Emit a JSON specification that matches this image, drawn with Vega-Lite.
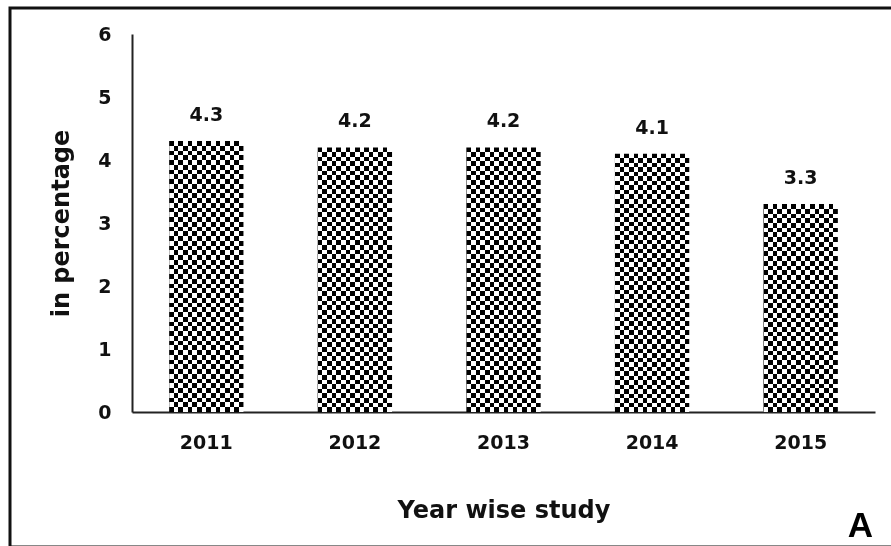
{
"$schema": "https://vega.github.io/schema/vega-lite/v6.json",
"width": 884, "height": 539,
"autosize": {"type": "none"},
"padding": {"left": 10, "top": 8, "right": 0, "bottom": 0},
"background": "white",
"config": {"view": {"stroke": "#111", "strokeWidth": 3}, "font": "DejaVu Sans"},
"title": {"text": "A", "orient": "bottom", "anchor": "end", "frame": "group", "font": "Liberation Sans", "fontSize": 35, "fontWeight": "bold", "color": "#000", "baseline": "alphabetic", "offset": -10, "dx": -21},
"data": {"values": [
{"year": "2011", "v": 4.3},
{"year": "2012", "v": 4.2},
{"year": "2013", "v": 4.2},
{"year": "2014", "v": 4.1},
{"year": "2015", "v": 3.3}
]},
"encoding": {
"x": {"field": "year", "type": "nominal", "scale": {"range": [122, 865], "paddingInner": 0.5, "paddingOuter": 0.25},
 "axis": {"title": "Year wise study", "orient": "bottom", "offset": -135, "labelAngle": 0, "ticks": false, "labelPadding": 21, "labelFont": "DejaVu Sans", "labelFontSize": 19, "labelFontWeight": "bold", "labelColor": "#111", "domainColor": "#222", "domainWidth": 2, "titleFont": "DejaVu Sans", "titleFontSize": 24, "titleFontWeight": "bold", "titleColor": "#111", "titlePadding": 46, "grid": false}},
"y": {"field": "v", "type": "quantitative", "scale": {"domain": [0, 6], "range": [404, 26], "nice": false, "zero": true},
 "axis": {"title": "in percentage", "orient": "left", "offset": -122, "values": [0, 1, 2, 3, 4, 5, 6], "ticks": false, "labelPadding": 21, "labelFont": "DejaVu Sans", "labelFontSize": 19, "labelFontWeight": "bold", "labelColor": "#111", "domainColor": "#222", "domainWidth": 2, "titleFont": "DejaVu Sans", "titleFontSize": 24, "titleFontWeight": "bold", "titleColor": "#111", "titlePadding": 24, "grid": false}}
},
"layer": [
{"mark": {"type": "bar", "stroke": null, "fill": {"gradient": "linear", "x1": 0, "y1": 0, "x2": 1, "y2": 0, "stops": [
{"offset": 0, "color": "#000"}, {"offset": 0.0625, "color": "#000"}, {"offset": 0.0625, "color": "#fff"}, {"offset": 0.125, "color": "#fff"},
{"offset": 0.125, "color": "#000"}, {"offset": 0.1875, "color": "#000"}, {"offset": 0.1875, "color": "#fff"}, {"offset": 0.25, "color": "#fff"},
{"offset": 0.25, "color": "#000"}, {"offset": 0.3125, "color": "#000"}, {"offset": 0.3125, "color": "#fff"}, {"offset": 0.375, "color": "#fff"},
{"offset": 0.375, "color": "#000"}, {"offset": 0.4375, "color": "#000"}, {"offset": 0.4375, "color": "#fff"}, {"offset": 0.5, "color": "#fff"},
{"offset": 0.5, "color": "#000"}, {"offset": 0.5625, "color": "#000"}, {"offset": 0.5625, "color": "#fff"}, {"offset": 0.625, "color": "#fff"},
{"offset": 0.625, "color": "#000"}, {"offset": 0.6875, "color": "#000"}, {"offset": 0.6875, "color": "#fff"}, {"offset": 0.75, "color": "#fff"},
{"offset": 0.75, "color": "#000"}, {"offset": 0.8125, "color": "#000"}, {"offset": 0.8125, "color": "#fff"}, {"offset": 0.875, "color": "#fff"},
{"offset": 0.875, "color": "#000"}, {"offset": 0.9375, "color": "#000"}, {"offset": 0.9375, "color": "#fff"}, {"offset": 1, "color": "#fff"}
]}}},
{"transform": [{"filter": "datum.v > 4"}],
 "mark": {"type": "bar", "stroke": null, "blend": "difference", "fill": {"gradient": "linear", "x1": 0, "y1": 0, "x2": 0, "y2": 1, "stops": [
{"offset":0,"color":"#000"},{"offset":0.017544,"color":"#000"},{"offset":0.017544,"color":"#fff"},{"offset":0.035088,"color":"#fff"},{"offset":0.035088,"color":"#000"},{"offset":0.052632,"color":"#000"},{"offset":0.052632,"color":"#fff"},{"offset":0.070175,"color":"#fff"},{"offset":0.070175,"color":"#000"},{"offset":0.087719,"color":"#000"},{"offset":0.087719,"color":"#fff"},{"offset":0.105263,"color":"#fff"},{"offset":0.105263,"color":"#000"},{"offset":0.122807,"color":"#000"},{"offset":0.122807,"color":"#fff"},{"offset":0.140351,"color":"#fff"},{"offset":0.140351,"color":"#000"},{"offset":0.157895,"color":"#000"},{"offset":0.157895,"color":"#fff"},{"offset":0.175439,"color":"#fff"},{"offset":0.175439,"color":"#000"},{"offset":0.192982,"color":"#000"},{"offset":0.192982,"color":"#fff"},{"offset":0.210526,"color":"#fff"},{"offset":0.210526,"color":"#000"},{"offset":0.22807,"color":"#000"},{"offset":0.22807,"color":"#fff"},{"offset":0.245614,"color":"#fff"},{"offset":0.245614,"color":"#000"},{"offset":0.263158,"color":"#000"},{"offset":0.263158,"color":"#fff"},{"offset":0.280702,"color":"#fff"},{"offset":0.280702,"color":"#000"},{"offset":0.298246,"color":"#000"},{"offset":0.298246,"color":"#fff"},{"offset":0.315789,"color":"#fff"},{"offset":0.315789,"color":"#000"},{"offset":0.333333,"color":"#000"},{"offset":0.333333,"color":"#fff"},{"offset":0.350877,"color":"#fff"},{"offset":0.350877,"color":"#000"},{"offset":0.368421,"color":"#000"},{"offset":0.368421,"color":"#fff"},{"offset":0.385965,"color":"#fff"},{"offset":0.385965,"color":"#000"},{"offset":0.403509,"color":"#000"},{"offset":0.403509,"color":"#fff"},{"offset":0.421053,"color":"#fff"},{"offset":0.421053,"color":"#000"},{"offset":0.438596,"color":"#000"},{"offset":0.438596,"color":"#fff"},{"offset":0.45614,"color":"#fff"},{"offset":0.45614,"color":"#000"},{"offset":0.473684,"color":"#000"},{"offset":0.473684,"color":"#fff"},{"offset":0.491228,"color":"#fff"},{"offset":0.491228,"color":"#000"},{"offset":0.508772,"color":"#000"},{"offset":0.508772,"color":"#fff"},{"offset":0.526316,"color":"#fff"},{"offset":0.526316,"color":"#000"},{"offset":0.54386,"color":"#000"},{"offset":0.54386,"color":"#fff"},{"offset":0.561404,"color":"#fff"},{"offset":0.561404,"color":"#000"},{"offset":0.578947,"color":"#000"},{"offset":0.578947,"color":"#fff"},{"offset":0.596491,"color":"#fff"},{"offset":0.596491,"color":"#000"},{"offset":0.614035,"color":"#000"},{"offset":0.614035,"color":"#fff"},{"offset":0.631579,"color":"#fff"},{"offset":0.631579,"color":"#000"},{"offset":0.649123,"color":"#000"},{"offset":0.649123,"color":"#fff"},{"offset":0.666667,"color":"#fff"},{"offset":0.666667,"color":"#000"},{"offset":0.684211,"color":"#000"},{"offset":0.684211,"color":"#fff"},{"offset":0.701754,"color":"#fff"},{"offset":0.701754,"color":"#000"},{"offset":0.719298,"color":"#000"},{"offset":0.719298,"color":"#fff"},{"offset":0.736842,"color":"#fff"},{"offset":0.736842,"color":"#000"},{"offset":0.754386,"color":"#000"},{"offset":0.754386,"color":"#fff"},{"offset":0.77193,"color":"#fff"},{"offset":0.77193,"color":"#000"},{"offset":0.789474,"color":"#000"},{"offset":0.789474,"color":"#fff"},{"offset":0.807018,"color":"#fff"},{"offset":0.807018,"color":"#000"},{"offset":0.824561,"color":"#000"},{"offset":0.824561,"color":"#fff"},{"offset":0.842105,"color":"#fff"},{"offset":0.842105,"color":"#000"},{"offset":0.859649,"color":"#000"},{"offset":0.859649,"color":"#fff"},{"offset":0.877193,"color":"#fff"},{"offset":0.877193,"color":"#000"},{"offset":0.894737,"color":"#000"},{"offset":0.894737,"color":"#fff"},{"offset":0.912281,"color":"#fff"},{"offset":0.912281,"color":"#000"},{"offset":0.929825,"color":"#000"},{"offset":0.929825,"color":"#fff"},{"offset":0.947368,"color":"#fff"},{"offset":0.947368,"color":"#000"},{"offset":0.964912,"color":"#000"},{"offset":0.964912,"color":"#fff"},{"offset":0.982456,"color":"#fff"},{"offset":0.982456,"color":"#000"},{"offset":1,"color":"#000"}
]}}},
{"transform": [{"filter": "datum.v < 4"}],
 "mark": {"type": "bar", "stroke": null, "blend": "difference", "fill": {"gradient": "linear", "x1": 0, "y1": 0, "x2": 0, "y2": 1, "stops": [
{"offset":0,"color":"#000"},{"offset":0.022727,"color":"#000"},{"offset":0.022727,"color":"#fff"},{"offset":0.045455,"color":"#fff"},{"offset":0.045455,"color":"#000"},{"offset":0.068182,"color":"#000"},{"offset":0.068182,"color":"#fff"},{"offset":0.090909,"color":"#fff"},{"offset":0.090909,"color":"#000"},{"offset":0.113636,"color":"#000"},{"offset":0.113636,"color":"#fff"},{"offset":0.136364,"color":"#fff"},{"offset":0.136364,"color":"#000"},{"offset":0.159091,"color":"#000"},{"offset":0.159091,"color":"#fff"},{"offset":0.181818,"color":"#fff"},{"offset":0.181818,"color":"#000"},{"offset":0.204545,"color":"#000"},{"offset":0.204545,"color":"#fff"},{"offset":0.227273,"color":"#fff"},{"offset":0.227273,"color":"#000"},{"offset":0.25,"color":"#000"},{"offset":0.25,"color":"#fff"},{"offset":0.272727,"color":"#fff"},{"offset":0.272727,"color":"#000"},{"offset":0.295455,"color":"#000"},{"offset":0.295455,"color":"#fff"},{"offset":0.318182,"color":"#fff"},{"offset":0.318182,"color":"#000"},{"offset":0.340909,"color":"#000"},{"offset":0.340909,"color":"#fff"},{"offset":0.363636,"color":"#fff"},{"offset":0.363636,"color":"#000"},{"offset":0.386364,"color":"#000"},{"offset":0.386364,"color":"#fff"},{"offset":0.409091,"color":"#fff"},{"offset":0.409091,"color":"#000"},{"offset":0.431818,"color":"#000"},{"offset":0.431818,"color":"#fff"},{"offset":0.454545,"color":"#fff"},{"offset":0.454545,"color":"#000"},{"offset":0.477273,"color":"#000"},{"offset":0.477273,"color":"#fff"},{"offset":0.5,"color":"#fff"},{"offset":0.5,"color":"#000"},{"offset":0.522727,"color":"#000"},{"offset":0.522727,"color":"#fff"},{"offset":0.545455,"color":"#fff"},{"offset":0.545455,"color":"#000"},{"offset":0.568182,"color":"#000"},{"offset":0.568182,"color":"#fff"},{"offset":0.590909,"color":"#fff"},{"offset":0.590909,"color":"#000"},{"offset":0.613636,"color":"#000"},{"offset":0.613636,"color":"#fff"},{"offset":0.636364,"color":"#fff"},{"offset":0.636364,"color":"#000"},{"offset":0.659091,"color":"#000"},{"offset":0.659091,"color":"#fff"},{"offset":0.681818,"color":"#fff"},{"offset":0.681818,"color":"#000"},{"offset":0.704545,"color":"#000"},{"offset":0.704545,"color":"#fff"},{"offset":0.727273,"color":"#fff"},{"offset":0.727273,"color":"#000"},{"offset":0.75,"color":"#000"},{"offset":0.75,"color":"#fff"},{"offset":0.772727,"color":"#fff"},{"offset":0.772727,"color":"#000"},{"offset":0.795455,"color":"#000"},{"offset":0.795455,"color":"#fff"},{"offset":0.818182,"color":"#fff"},{"offset":0.818182,"color":"#000"},{"offset":0.840909,"color":"#000"},{"offset":0.840909,"color":"#fff"},{"offset":0.863636,"color":"#fff"},{"offset":0.863636,"color":"#000"},{"offset":0.886364,"color":"#000"},{"offset":0.886364,"color":"#fff"},{"offset":0.909091,"color":"#fff"},{"offset":0.909091,"color":"#000"},{"offset":0.931818,"color":"#000"},{"offset":0.931818,"color":"#fff"},{"offset":0.954545,"color":"#fff"},{"offset":0.954545,"color":"#000"},{"offset":0.977273,"color":"#000"},{"offset":0.977273,"color":"#fff"},{"offset":1,"color":"#fff"}
]}}},
{"mark": {"type": "text", "baseline": "alphabetic", "dy": -20, "font": "DejaVu Sans", "fontSize": 19, "fontWeight": "bold", "color": "#111"},
 "encoding": {"text": {"field": "v", "type": "quantitative", "format": ".1f"}}}
]
}
